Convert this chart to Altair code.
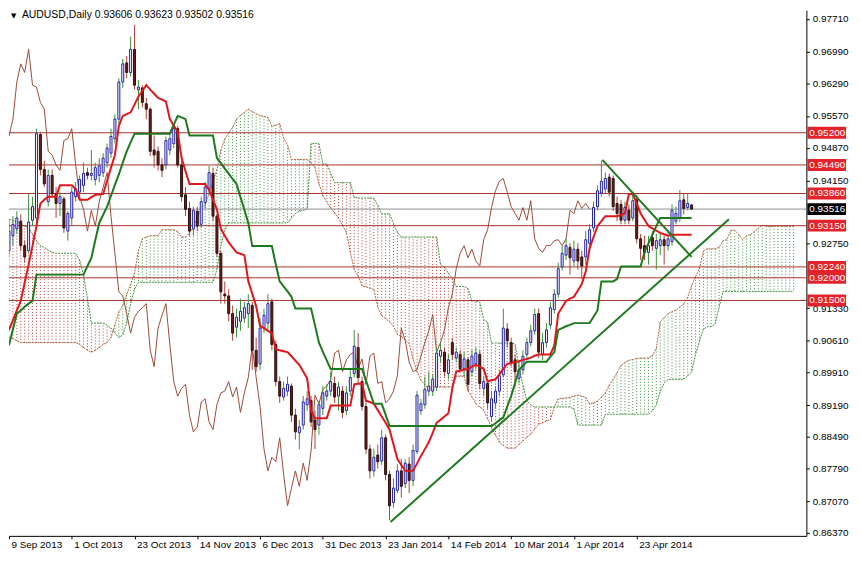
import altair as alt
import pandas as pd

# ---------------- data ----------------
TITLE = "AUDUSD,Daily  0.93606 0.93623 0.93502 0.93516"
DATE_TICKS = [0, 16, 32, 48, 64, 80, 96, 112, 128, 144, 160]
DATE_LABELS = ["9 Sep 2013", "1 Oct 2013", "23 Oct 2013", "14 Nov 2013", "6 Dec 2013",
               "31 Dec 2013", "23 Jan 2014", "14 Feb 2014", "10 Mar 2014", "1 Apr 2014", "23 Apr 2014"]
PRICE_TICKS = [0.97710, 0.96990, 0.96290, 0.95570, 0.94870, 0.94150, 0.92750, 0.91330,
               0.90610, 0.89910, 0.89190, 0.88490, 0.87790, 0.87070, 0.86370]
LEVELS = [0.9520, 0.9449, 0.9386, 0.9315, 0.9224, 0.9200, 0.9150]
LAST_PRICE = 0.93516
SHIFT = 26

OPEN = [.9260, .9293, .9308, .9325, .9271, .9260, .9327, .9332, .9516, .9439,
        .9368, .9426, .9385, .9364, .9374, .9303, .9332, .9379, .9389, .9404,
        .9432, .9426, .9417, .9426, .9432, .9454, .9475, .9507, .9550, .9632,
        .9674, .9653, .9704, .9615, .9619, .9584, .9572, .9482, .9479, .9449,
        .9449, .9482, .9496, .9529, .9449, .9383, .9353, .9308, .9347, .9318,
        .9366, .9396, .9430, .9336, .9254, .9164, .9160, .9121, .9091, .9104,
        .9111, .9121, .9139, .9040, .9010, .9089, .9100, .9147, .9053, .8971,
        .8937, .8950, .8961, .8897, .8858, .8875, .8920, .8929, .8886, .8875,
        .8912, .8939, .8950, .8967, .8939, .8950, .8907, .8950, .8989, .9046,
        .8971, .8916, .8822, .8774, .8809, .8796, .8847, .8766, .8704, .8731,
        .8774, .8746, .8789, .8753, .8817, .8907, .8920, .8950, .8950, .8959,
        .9027, .9036, .8989, .9057, .9023, .9031, .8999, .9019, .8993, .9010,
        .9031, .8956, .8967, .8894, .8924, .8950, .8986, .9087, .9057, .9019,
        .8978, .8997, .9031, .9057, .9083, .9121, .9031, .9057, .9096, .9130,
        .9164, .9224, .9250, .9267, .9237, .9263, .9246, .9246, .9276, .9310,
        .9357, .9387, .9396, .9422, .9419, .9364, .9362, .9327, .9349, .9332,
        .9372, .9286, .9271, .9256, .9289, .9265, .9271, .9284, .9271, .9280,
        .9325, .9332, .9372, .9355, .93606]
HIGH = [.9325, .9336, .9347, .9340, .9282, .9385, .9379, .9529, .9522, .9458,
        .9439, .9439, .9400, .9389, .9379, .9347, .9400, .9411, .9426, .9454,
        .9443, .9482, .9454, .9464, .9475, .9496, .9529, .9561, .9640, .9683,
        .9689, .9732, .9758, .9636, .9625, .9597, .9576, .9514, .9490, .9464,
        .9512, .9522, .9540, .9535, .9458, .9400, .9368, .9357, .9357, .9379,
        .9411, .9447, .9443, .9340, .9260, .9192, .9175, .9139, .9132, .9154,
        .9147, .9164, .9147, .9068, .9111, .9132, .9164, .9154, .9061, .8982,
        .8971, .8982, .8967, .8911, .8886, .8939, .8950, .8939, .8907, .8929,
        .8961, .8965, .8993, .8982, .8971, .8961, .8961, .8997, .9085, .9078,
        .8982, .8929, .8832, .8822, .8832, .8865, .8854, .8774, .8757, .8789,
        .8800, .8800, .8804, .8832, .8950, .8933, .8982, .8993, .8986, .9046,
        .9057, .9046, .9031, .9068, .9046, .9040, .9036, .9025, .9042, .9046,
        .9040, .8982, .8976, .8950, .8961, .8997, .9132, .9100, .9068, .9031,
        .9014, .9040, .9068, .9096, .9132, .9132, .9078, .9100, .9147, .9175,
        .9233, .9271, .9286, .9276, .9282, .9276, .9260, .9303, .9318, .9368,
        .9404, .9458, .9432, .9430, .9426, .9379, .9372, .9368, .9362, .9389,
        .9383, .9297, .9293, .9293, .9303, .9297, .9299, .9293, .9303, .9362,
        .9357, .9394, .9385, .9387, .93623]
LOW = [.9246, .9271, .9297, .9260, .9233, .9254, .9314, .9323, .9426, .9400,
       .9357, .9379, .9332, .9336, .9299, .9282, .9314, .9368, .9379, .9389,
       .9417, .9415, .9404, .9411, .9422, .9443, .9464, .9496, .9540, .9619,
       .9640, .9644, .9615, .9572, .9576, .9550, .9469, .9443, .9437, .9422,
       .9439, .9471, .9486, .9443, .9368, .9336, .9293, .9293, .9303, .9310,
       .9353, .9383, .9325, .9246, .9143, .9143, .9104, .9061, .9068, .9083,
       .9100, .9089, .8997, .8993, .8997, .9078, .9083, .9040, .8961, .8924,
       .8929, .8939, .8882, .8843, .8822, .8865, .8907, .8871, .8822, .8854,
       .8897, .8929, .8939, .8924, .8907, .8890, .8897, .8939, .8980, .8967,
       .8907, .8811, .8757, .8761, .8779, .8787, .8753, .8665, .8693, .8725,
       .8715, .8736, .8725, .8740, .8811, .8897, .8911, .8939, .8939, .8950,
       .9014, .8982, .8976, .9019, .9014, .8993, .8982, .8950, .8982, .8997,
       .8954, .8939, .8911, .8882, .8911, .8939, .8980, .9046, .9004, .8961,
       .8967, .8986, .9023, .9049, .9074, .9023, .9019, .9046, .9087, .9121,
       .9156, .9216, .9239, .9207, .9224, .9218, .9197, .9229, .9260, .9301,
       .9349, .9379, .9385, .9379, .9347, .9325, .9318, .9318, .9318, .9325,
       .9276, .9239, .9239, .9229, .9260, .9218, .9250, .9229, .9260, .9271,
       .9318, .9323, .9340, .9349, .93502]
CLOSE = [.9303, .9318, .9332, .9271, .9246, .9323, .9357, .9518, .9439, .9407,
         .9426, .9385, .9364, .9379, .9310, .9342, .9389, .9396, .9417, .9430,
         .9426, .9430, .9443, .9447, .9464, .9486, .9512, .9550, .9632, .9672,
         .9653, .9704, .9625, .9621, .9587, .9572, .9479, .9471, .9449, .9437,
         .9503, .9507, .9529, .9449, .9379, .9351, .9303, .9349, .9314, .9368,
         .9400, .9432, .9336, .9254, .9169, .9160, .9121, .9078, .9113, .9126,
         .9134, .9143, .9040, .9004, .9089, .9117, .9143, .9053, .8971, .8939,
         .8956, .8965, .8897, .8860, .8871, .8926, .8933, .8882, .8865, .8920,
         .8946, .8950, .8971, .8937, .8959, .8903, .8946, .8980, .9049, .8980,
         .8916, .8822, .8774, .8804, .8794, .8847, .8766, .8697, .8736, .8774,
         .8740, .8791, .8753, .8819, .8941, .8922, .8954, .8961, .8976, .9034,
         .9040, .8993, .9019, .9031, .9036, .8999, .9021, .8965, .9027, .9034,
         .8967, .8971, .8924, .8933, .8950, .8984, .9089, .9061, .9014, .8993,
         .8997, .9027, .9057, .9083, .9119, .9036, .9057, .9085, .9134, .9164,
         .9220, .9254, .9271, .9244, .9263, .9237, .9226, .9284, .9306, .9355,
         .9392, .9413, .9419, .9389, .9357, .9342, .9327, .9355, .9327, .9370,
         .9286, .9265, .9256, .9271, .9271, .9282, .9284, .9271, .9286, .9349,
         .9342, .9370, .9353, .9364, .93516]

TENKAN = [.9085, .9106, .9128, .9149, .9189, .9229, .9271, .9314, .9364, .9372,
          .9379, .9379, .9379, .9404, .9404, .9404, .9404, .9396, .9372, .9372,
          .9372, .9378, .9383, .9384, .9385, .9414, .9443, .9471, .9535, .9557,
          .9561, .9565, .9582, .9600, .9612, .9625, .9615, .9606, .9597, .9593,
          .9589, .9550, .9536, .9522, .9464, .9435, .9407, .9407, .9407, .9407,
          .9407, .9394, .9372, .9351, .9308, .9293, .9278, .9267, .9256, .9253,
          .9250, .9192, .9165, .9137, .9094, .9089, .9083, .9078, .9042, .9040,
          .9038, .9036, .9027, .9017, .9008, .8993, .8978, .8907, .8890, .8890,
          .8890, .8890, .8918, .8918, .8918, .8918, .8918, .8918, .8965, .8966,
          .8967, .8929, .8926, .8922, .8908, .8894, .8880, .8865, .8833, .8800,
          .8787, .8774, .8774, .8774, .8790, .8807, .8822, .8837, .8858, .8880,
          .8887, .8894, .8901, .8956, .8993, .8995, .8997, .8999, .9004, .9008,
          .9004, .8999, .8971, .8974, .8976, .8987, .8999, .9010, .9012, .9014,
          .9016, .9019, .9021, .9024, .9028, .9031, .9031, .9031, .9031, .9051,
          .9121, .9135, .9149, .9154, .9158, .9172, .9186, .9214, .9265, .9290,
          .9314, .9325, .9336, .9336, .9336, .9336, .9339, .9342, .9385, .9385,
          .9364, .9342, .9328, .9314, .9309, .9304, .9299, .9296, .9293, .9295,
          .9295, .9295, .9295, .9295, .9295]
KIJUN = [.9051, .9086, .9121, .9128, .9136, .9143, .9149, .9207, .9207, .9207,
         .9207, .9207, .9207, .9207, .9207, .9207, .9207, .9207, .9207, .9207,
         .9226, .9244, .9283, .9321, .9339, .9357, .9381, .9405, .9428, .9454,
         .9479, .9499, .9518, .9518, .9518, .9518, .9518, .9518, .9518, .9518,
         .9518, .9518, .9538, .9557, .9554, .9550, .9514, .9514, .9514, .9514,
         .9514, .9514, .9514, .9464, .9453, .9441, .9430, .9418, .9407, .9378,
         .9350, .9321, .9270, .9270, .9270, .9270, .9270, .9270, .9230, .9192,
         .9181, .9170, .9158, .9132, .9132, .9132, .9132, .9132, .9095, .9057,
         .9037, .9018, .8999, .8999, .8999, .8999, .8999, .8999, .8999, .8999,
         .8999, .8973, .8948, .8922, .8922, .8922, .8898, .8873, .8873, .8873,
         .8873, .8873, .8873, .8873, .8873, .8873, .8873, .8873, .8873, .8873,
         .8873, .8873, .8873, .8873, .8873, .8873, .8873, .8873, .8873, .8873,
         .8873, .8873, .8873, .8873, .8879, .8886, .8892, .8916, .8939, .8968,
         .8997, .9006, .9015, .9015, .9015, .9015, .9015, .9015, .9026, .9036,
         .9085, .9089, .9093, .9096, .9100, .9100, .9100, .9100, .9100, .9114,
         .9128, .9192, .9192, .9192, .9192, .9197, .9225, .9225, .9225, .9225,
         .9225, .9225, .9257, .9276, .9295, .9314, .9332, .9332, .9332, .9332,
         .9332, .9332, .9332, .9332, .9332]

# Senkou spans as displayed (index = bar position on the chart, 26 bars ahead)
SENKOU_A = [.9068, .9066, .9061, .9057, .9057, .9057, .9057, .9057, .9057, .9057,
            .9057, .9057, .9057, .9057, .9057, .9057, .9057, .9057, .9053, .9046,
            .9040, .9036, .9040, .9046, .9053, .9057,
            .9068, .9096, .9125, .9139, .9163, .9186, .9210, .9261, .9286, .9290,
            .9293, .9293, .9293, .9306, .9306, .9306, .9306, .9302, .9290, .9290,
            .9299, .9311, .9333, .9353, .9362, .9386, .9412, .9438, .9482, .9506,
            .9520, .9532, .9550, .9559, .9565, .9572, .9567, .9562, .9558, .9556,
            .9554, .9534, .9537, .9540, .9509, .9493, .9461, .9461, .9461, .9461,
            .9461, .9454, .9443, .9408, .9381, .9367, .9354, .9343, .9332, .9316,
            .9300, .9257, .9218, .9204, .9182, .9180, .9177, .9174, .9136, .9116,
            .9110, .9103, .9093, .9075, .9070, .9063, .9055, .9020, .8993, .8974,
            .8964, .8954, .8959, .8959, .8959, .8959, .8959, .8959, .8982, .8983,
            .8983, .8951, .8937, .8922, .8915, .8908, .8889, .8869, .8853, .8837,
            .8830, .8824, .8824, .8824, .8832, .8840, .8848, .8855, .8866, .8877,
            .8880, .8884, .8887, .8915, .8933, .8934, .8935, .8936, .8939, .8941,
            .8939, .8936, .8922, .8924, .8928, .8937, .8946, .8963, .8976, .8991,
            .9007, .9013, .9018, .9020, .9022, .9023, .9023, .9023, .9029, .9044,
            .9103, .9112, .9121, .9125, .9129, .9136, .9143, .9157, .9183, .9202,
            .9221, .9259, .9264, .9264, .9264, .9267, .9282, .9284, .9305, .9305,
            .9295, .9284, .9293, .9295, .9302, .9309, .9316, .9314, .9313, .9314,
            .9314, .9314, .9314, .9314, .9314]
SENKOU_B = [.9329, .9327, .9323, .9319, .9314, .9310, .9297, .9282, .9271, .9267,
            .9261, .9256, .9254, .9254, .9254, .9254, .9254, .9254, .9239, .9207,
            .9154, .9100, .9100, .9100, .9100, .9096, .9089, .9078, .9068, .9074,
            .9100, .9143, .9175, .9190, .9190, .9190, .9190, .9190, .9190, .9190,
            .9190, .9190, .9190, .9190, .9190, .9190, .9190, .9190, .9190, .9190,
            .9190, .9190, .9190, .9218, .9271, .9304, .9321, .9321, .9321, .9321,
            .9321, .9321, .9321, .9321, .9321, .9321, .9321, .9321, .9321, .9321,
            .9321, .9321, .9332, .9342, .9347, .9349, .9351,
            .9496, .9496, .9496, .9451, .9451, .9431, .9410, .9410, .9410, .9410,
            .9410, .9378, .9376, .9376, .9376, .9376, .9376, .9360, .9341, .9341,
            .9341, .9320, .9301, .9290, .9290, .9290, .9290, .9290, .9290, .9290,
            .9290, .9290, .9290, .9229, .9224, .9210, .9199, .9181, .9181, .9181,
            .9176, .9149, .9149, .9146, .9108, .9102, .9056, .9056, .9056, .9056,
            .9056, .9056, .9054, .9003, .8963, .8929, .8920, .8915, .8915, .8915,
            .8915, .8915, .8915, .8915, .8915, .8915, .8915, .8910, .8875, .8875,
            .8875, .8875, .8875, .8875, .8875, .8899, .8899, .8899, .8899, .8899,
            .8899, .8899, .8899, .8899, .8899, .8899, .8899, .8906, .8920, .8949,
            .8968, .8976, .8976, .8976, .8976, .8976, .8984, .8992, .9031, .9060,
            .9087, .9092, .9092, .9099, .9135, .9170, .9170, .9170, .9170, .9170,
            .9170, .9170, .9170, .9170, .9170, .9170, .9170, .9170, .9170, .9170,
            .9170, .9170, .9170, .9170]

TREND_UP_I = [97.25, 183.5]
TREND_UP_P = [0.8661, 0.9329]
TREND_DN_I = [151.25, 174.0]
TREND_DN_P = [0.9460, 0.9246]

# ---------------- tables ----------------
n = len(CLOSE)
candles = pd.DataFrame({"i": list(range(n)), "o": OPEN, "h": HIGH, "l": LOW, "c": CLOSE})
candles["dir"] = ["up" if c >= o else "down" for o, c in zip(OPEN, CLOSE)]

tk = pd.DataFrame({"i": list(range(n)), "t": TENKAN, "k": KIJUN})
chikou = pd.DataFrame({"i": [t - SHIFT for t in range(SHIFT, n)], "p": CLOSE[SHIFT:]})
cloud = pd.DataFrame({"i": list(range(len(SENKOU_A))), "a": SENKOU_A, "b": SENKOU_B})
cloud["dir"] = ["up" if a >= b else "down" for a, b in zip(SENKOU_A, SENKOU_B)]
levels = pd.DataFrame({"p": LEVELS, "lab": [f"{v:.5f}" for v in LEVELS]})
last = pd.DataFrame({"p": [LAST_PRICE], "lab": [f"{LAST_PRICE:.5f}"]})
trend = pd.DataFrame({"i": TREND_UP_I + TREND_DN_I, "p": TREND_UP_P + TREND_DN_P,
                      "g": ["up", "up", "dn", "dn"]})
title_df = pd.DataFrame({"t": [TITLE]})

# ---------------- scales / axes ----------------
W, H = 804, 530
FONT = "Liberation Sans"
xs = alt.Scale(domain=[0, 203.25], nice=False, zero=False, padding=0)
ys = alt.Scale(domain=[0.86306, 0.97903], nice=False, zero=False, padding=0)

label_expr = " : ".join(f"datum.value == {v} ? '{l}'" for v, l in zip(DATE_TICKS, DATE_LABELS)) + " : ''"
x_axis = alt.Axis(values=DATE_TICKS, labelExpr=label_expr, orient="bottom", title=None, grid=False,
                  labelAlign="left", labelOffset=2, labelPadding=1, tickSize=3, labelFlush=False,
                  labelOverlap=False, labelFont=FONT, labelFontSize=10, labelColor="black",
                  domainColor="black", tickColor="black")
y_axis = alt.Axis(values=PRICE_TICKS, format=".5f", orient="right", title=None, grid=False,
                  tickSize=3, labelPadding=3, labelFlush=False, labelOverlap=False,
                  labelFont=FONT, labelFontSize=10, labelColor="black",
                  domainColor="black", tickColor="black")

def X(field):
    return alt.X(f"{field}:Q", scale=xs, axis=x_axis)

def Y(field):
    return alt.Y(f"{field}:Q", scale=ys, axis=y_axis)

GREEN_HATCH = "#3d8f3d"
RED_HATCH = "#a8423a"

hatch = alt.Chart(cloud).mark_rule(strokeDash=[1, 2], strokeWidth=1, clip=True).encode(
    x=X("i"), y=Y("a"), y2="b",
    color=alt.Color("dir:N", scale=alt.Scale(domain=["up", "down"], range=[GREEN_HATCH, RED_HATCH]), legend=None))
edge_a = alt.Chart(cloud).mark_line(color="#b0603c", strokeWidth=1, strokeDash=[2, 1], clip=True).encode(
    x=X("i"), y=Y("a"))
edge_b = alt.Chart(cloud).mark_line(color="#3d8f3d", strokeWidth=1, strokeDash=[2, 1], clip=True).encode(
    x=X("i"), y=Y("b"))

level_rules = alt.Chart(levels).mark_rule(color="#a8322a", strokeWidth=1).encode(y=Y("p"))
last_rule = alt.Chart(last).mark_rule(color="#8c8c8c", strokeWidth=1).encode(y=Y("p"))

chikou_line = alt.Chart(chikou).mark_line(color="#9a4a36", strokeWidth=1, clip=True).encode(x=X("i"), y=Y("p"))

candle_col = alt.Scale(domain=["up", "down"], range=["#1c1ca8", "#2a0c0a"])
wicks = alt.Chart(candles).mark_rule(strokeWidth=1, clip=True).encode(
    x=X("i"), y=Y("l"), y2="h", color=alt.Color("dir:N", scale=candle_col, legend=None))
bodies = alt.Chart(candles).mark_bar(width=2, strokeWidth=1, clip=True).encode(
    x=X("i"), y=Y("o"), y2="c",
    fill=alt.Fill("dir:N", scale=alt.Scale(domain=["up", "down"], range=["#ffffff", "#6e1f1a"]), legend=None),
    stroke=alt.Stroke("dir:N", scale=candle_col, legend=None))

tenkan = alt.Chart(tk).mark_line(color="#e0161b", strokeWidth=2, clip=True).encode(x=X("i"), y=Y("t"))
kijun = alt.Chart(tk).mark_line(color="#1c7a1c", strokeWidth=2, clip=True).encode(x=X("i"), y=Y("k"))

trend_lines = alt.Chart(trend).mark_line(color="#1e7a1e", strokeWidth=2, clip=True).encode(
    x=X("i"), y=Y("p"), detail="g:N")

box_x1, box_x2 = W + 1, W + 40
level_boxes = alt.Chart(levels).mark_rule(color="#e3222a", strokeWidth=12, strokeCap="butt").encode(
    x=alt.value(box_x1), x2=alt.value(box_x2), y=Y("p"))
level_text = alt.Chart(levels).mark_text(align="left", baseline="middle", font=FONT, fontSize=10,
                                         color="white").encode(
    x=alt.value(box_x1 + 2), y=Y("p"), text="lab:N")
last_box = alt.Chart(last).mark_rule(color="black", strokeWidth=12, strokeCap="butt").encode(
    x=alt.value(box_x1), x2=alt.value(box_x2), y=Y("p"))
last_text = alt.Chart(last).mark_text(align="left", baseline="middle", font=FONT, fontSize=10,
                                      color="white").encode(
    x=alt.value(box_x1 + 2), y=Y("p"), text="lab:N")

title_tri = alt.Chart(title_df).mark_text(align="left", baseline="top", font="DejaVu Sans", fontSize=7,
                                          color="black").encode(x=alt.value(2), y=alt.value(2), text=alt.value("▼"))
title_txt = alt.Chart(title_df).mark_text(align="left", baseline="top", font=FONT, fontSize=10.5,
                                          color="black").encode(x=alt.value(13), y=alt.value(0), text="t:N")

chart = alt.layer(
    hatch, edge_a, edge_b, level_rules, last_rule, chikou_line,
    wicks, bodies, tenkan, kijun, trend_lines,
    level_boxes, level_text, last_box, last_text, title_tri, title_txt
).properties(width=W, height=H, background="white", padding=0).configure_view(stroke=None)

chart.save("out.html", embed_options={"renderer": "svg", "actions": False})
